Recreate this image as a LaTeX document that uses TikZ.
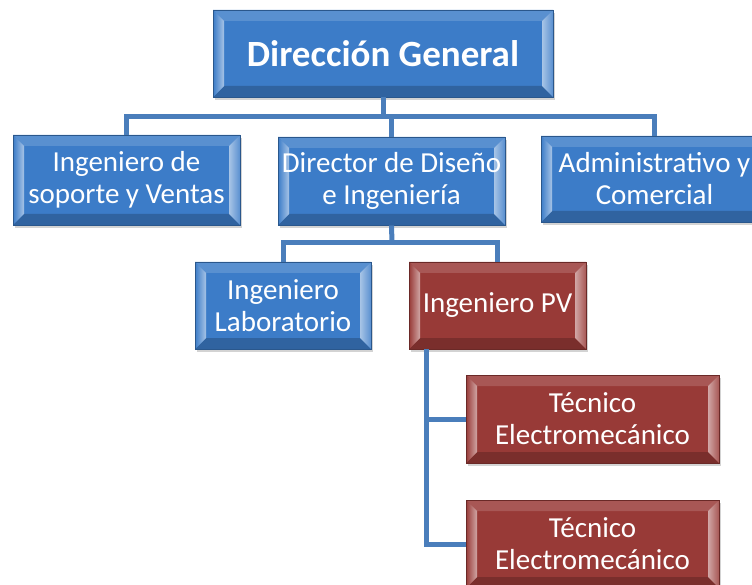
\documentclass[tikz,border=0pt]{standalone}
\usepackage{fontspec}
\setmainfont{Carlito}
\usetikzlibrary{shadows}

\definecolor{boxblue}{RGB}{60,124,200}
\definecolor{boxred}{RGB}{152,58,55}
\definecolor{linkblue}{RGB}{74,126,187}

\tikzset{
  orgbox/.style={rectangle, draw=#1!70!black, line width=0.8pt, fill=#1,
    text=white, align=center, inner sep=0pt,
    font=\fontsize{29}{32}\selectfont,
    drop shadow={opacity=0.35, shadow xshift=2pt, shadow yshift=-3pt},
    path picture={
      % corners of the box
      \coordinate (nw) at (path picture bounding box.north west);
      \coordinate (ne) at (path picture bounding box.north east);
      \coordinate (sw) at (path picture bounding box.south west);
      \coordinate (se) at (path picture bounding box.south east);
      % bevel
      \fill[#1!85!white] (nw) -- (ne) -- ([shift={(-11pt,-11pt)}]ne) -- ([shift={(11pt,-11pt)}]nw) -- cycle;
      \fill[#1!80!black] (sw) -- (se) -- ([shift={(-11pt,11pt)}]se) -- ([shift={(11pt,11pt)}]sw) -- cycle;
      \shade[left color=#1, right color=#1!45!white] (nw) -- ([shift={(11pt,-11pt)}]nw) -- ([shift={(11pt,11pt)}]sw) -- (sw) -- cycle;
      \shade[left color=#1!45!white, right color=#1!85!white] (ne) -- ([shift={(-11pt,-11pt)}]ne) -- ([shift={(-11pt,11pt)}]se) -- (se) -- cycle;
    }},
  link/.style={draw=linkblue, line width=5pt}
}

\begin{document}
\begin{tikzpicture}[x=1pt, y=-1pt]
  \clip (0,0) rectangle (752,585);

  % Boxes of the chart
  \node[orgbox=boxblue, minimum width=340pt, minimum height=87pt,
        font=\bfseries\fontsize{37}{40}\selectfont] (general) at (383,53.5) {Dirección General};
  \node[orgbox=boxblue, minimum width=227pt, minimum height=90pt] (ventas) at (126.5,180) {Ingeniero de\\soporte y Ventas};
  \node[orgbox=boxblue, minimum width=227pt, minimum height=88pt] (diseno) at (391.5,181) {Director de Diseño\\e Ingeniería};
  \node[orgbox=boxblue, minimum width=227pt, minimum height=86pt] (admin) at (654.5,179) {Administrativo y\\Comercial};
  \node[orgbox=boxblue, minimum width=176pt, minimum height=87pt] (lab) at (283,305.5) {Ingeniero\\Laboratorio};
  \node[orgbox=boxred, minimum width=177pt, minimum height=87pt] (pv) at (497.5,305.5) {Ingeniero PV};
  \node[orgbox=boxred, minimum width=253pt, minimum height=88pt] (tec1) at (592.5,419) {Técnico\\Electromecánico};
  \node[orgbox=boxred, minimum width=253pt, minimum height=88pt] (tec2) at (592.5,544) {Técnico\\Electromecánico};

  % Connectors
  \coordinate (busA) at (383,117);
  \coordinate (busB) at (392,243);
  \draw[link] (general.south) -- (busA);
  \draw[link] (ventas.north) -- (ventas.north |- busA) -- (admin.north |- busA) -- (admin.north);
  \draw[link] (diseno.north) -- (diseno.north |- busA);
  \draw[link] (diseno.south) -- (busB);
  \draw[link] (lab.north) -- (lab.north |- busB) -- (pv.north |- busB) -- (pv.north);
  \coordinate (spine) at ([xshift=18pt]pv.south west);
  \draw[link] (spine) |- (tec1.west);
  \draw[link] (spine) |- (tec2.west);
\end{tikzpicture}
\end{document}
